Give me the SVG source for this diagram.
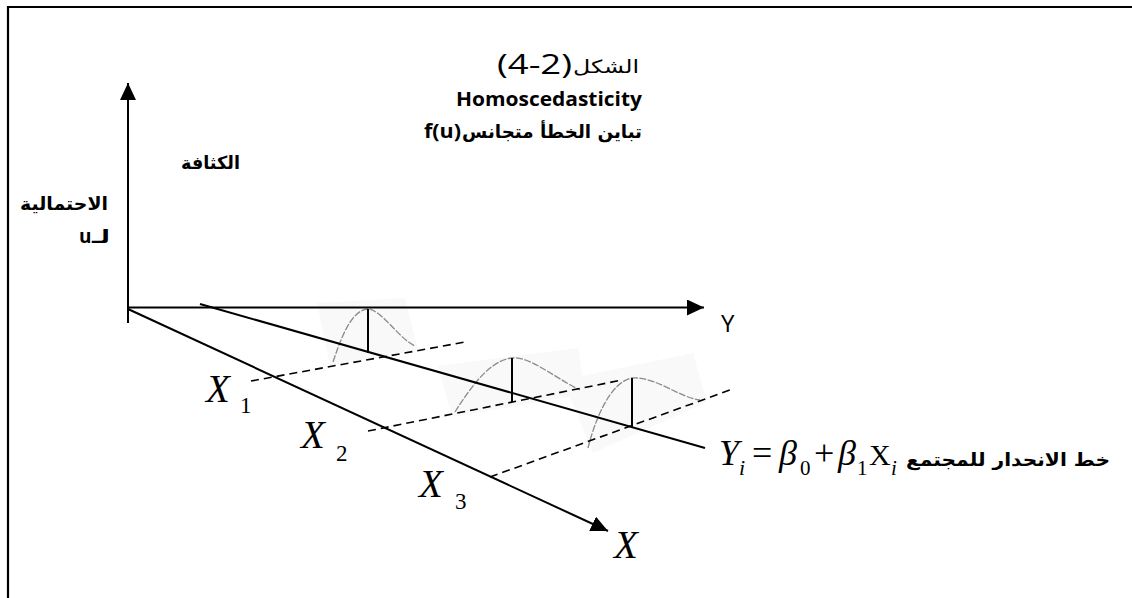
<svg xmlns="http://www.w3.org/2000/svg" width="1132" height="598" viewBox="0 0 1132 598">
<style>
.axis{stroke:#000;stroke-width:2;fill:none}
.reg{stroke:#000;stroke-width:2;fill:none}
.dash{stroke:#000;stroke-width:1.6;fill:none;stroke-dasharray:8 5}
.curve{stroke:#8a8a8a;stroke-width:1.3;fill:none;stroke-dasharray:7 1.5}
.bg{fill:#f9f9f9;stroke:none}
.ar{font-family:"DejaVu Sans","Liberation Sans",sans-serif;font-weight:bold;font-size:18px;fill:#000}
.lat{font-family:"Open Sans","Liberation Sans",sans-serif;fill:#000}
.math{font-family:"Liberation Serif","DejaVu Serif",serif;fill:#000}
.it{font-style:italic}
</style>
<defs>
<marker id="arrow" viewBox="0 0 17 16" refX="17" refY="8" markerWidth="17" markerHeight="16" markerUnits="userSpaceOnUse" orient="auto">
<path d="M0,0 L17,8 L0,16 z" fill="#000"/>
</marker>
</defs>
<rect width="1132" height="598" fill="#fff"/>
<path d="M8,598 V7 H1132" stroke="#000" stroke-width="2.2" fill="none"/>

<g id="title">
<text class="lat" x="497" y="74" font-size="28" textLength="75" lengthAdjust="spacingAndGlyphs">(4-2)</text>
<text class="ar" x="639" y="73" font-size="26" text-anchor="end" textLength="66" lengthAdjust="spacingAndGlyphs" style="font-weight:normal">الشكل</text>
<text class="lat" x="549" y="106" font-size="20" font-weight="bold" text-anchor="middle" textLength="186" lengthAdjust="spacingAndGlyphs">Homoscedasticity</text>
<text class="lat" x="424" y="138" font-size="20" font-weight="bold" textLength="37" lengthAdjust="spacingAndGlyphs">f(u)</text>
<text class="ar" x="642" y="138" font-size="20" text-anchor="end" textLength="180" lengthAdjust="spacingAndGlyphs">تباين الخطأ متجانس</text>
</g>

<g id="y-axis-label">
<text class="ar" x="240" y="169" text-anchor="end" textLength="59" lengthAdjust="spacingAndGlyphs">الكثافة</text>
<text class="ar" x="108" y="210" text-anchor="end" textLength="88" lengthAdjust="spacingAndGlyphs">الاحتمالية</text>
<text class="ar" x="110" y="243" text-anchor="end" textLength="18" lengthAdjust="spacingAndGlyphs">لـ</text>
<text class="lat" x="79" y="243" font-size="19" font-weight="bold">u</text>
</g>

<g id="curves">
<polygon class="bg" points="317,303 405,298 418,350 330,366"/>
<polygon class="bg" points="438,366 578,348 585,394 452,417"/>
<polygon class="bg" points="563,380 693,353 707,402 593,453"/>
<path class="curve" d="M333,362 C342,335 352,310 368,309 C382,310 398,338 415,346"/>
<path class="curve" d="M455,412 C470,388 490,360 512,358 C530,356 555,378 580,390"/>
<path class="curve" d="M588,448 C595,420 610,382 632,378 C655,376 680,398 700,400"/>
</g>

<g id="connectors">
<line class="axis" x1="128" y1="323" x2="128" y2="83" marker-end="url(#arrow)"/>
<line class="axis" x1="128" y1="307.5" x2="704" y2="307.5" marker-end="url(#arrow)"/>
<line class="axis" x1="128" y1="309" x2="608" y2="531" marker-end="url(#arrow)"/>
<line class="reg" x1="200" y1="304" x2="705" y2="448"/>
<line class="dash" x1="251" y1="381" x2="465" y2="342"/>
<line class="dash" x1="368" y1="431" x2="622" y2="380"/>
<line class="dash" x1="490" y1="477" x2="730" y2="390"/>
<line class="axis" x1="368" y1="309" x2="368" y2="353"/>
<line class="axis" x1="512" y1="358" x2="512" y2="402"/>
<line class="axis" x1="632" y1="378" x2="632" y2="428"/>
</g>

<g id="axis-labels">
<text class="lat" x="721" y="332" font-size="24" font-family="Liberation Sans">Y</text>
<text class="math it" x="614" y="558" font-size="39">X</text>
<text class="math it" x="206" y="402" font-size="39">X</text>
<text class="math" x="240" y="413" font-size="23">1</text>
<text class="math it" x="301" y="448" font-size="39">X</text>
<text class="math" x="336" y="461" font-size="23">2</text>
<text class="math it" x="419" y="497" font-size="39">X</text>
<text class="math" x="455" y="509" font-size="23">3</text>
</g>

<g id="regression-label">
<text class="math it" x="719" y="465" font-size="36">Y</text>
<text class="math it" x="739" y="475" font-size="22">i</text>
<text class="math" x="752" y="465" font-size="36">=</text>
<text class="math it" x="779" y="465" font-size="36">β</text>
<text class="math" x="800" y="475" font-size="21">0</text>
<text class="math" x="814" y="465" font-size="36">+</text>
<text class="math it" x="838" y="465" font-size="36">β</text>
<text class="math" x="857" y="475" font-size="21">1</text>
<text class="math" x="869" y="465" font-size="30">X</text>
<text class="math it" x="891" y="475" font-size="21">i</text>
<text class="ar" x="1110" y="466" text-anchor="end" textLength="204" lengthAdjust="spacingAndGlyphs">خط الانحدار للمجتمع</text>
</g>
</svg>
